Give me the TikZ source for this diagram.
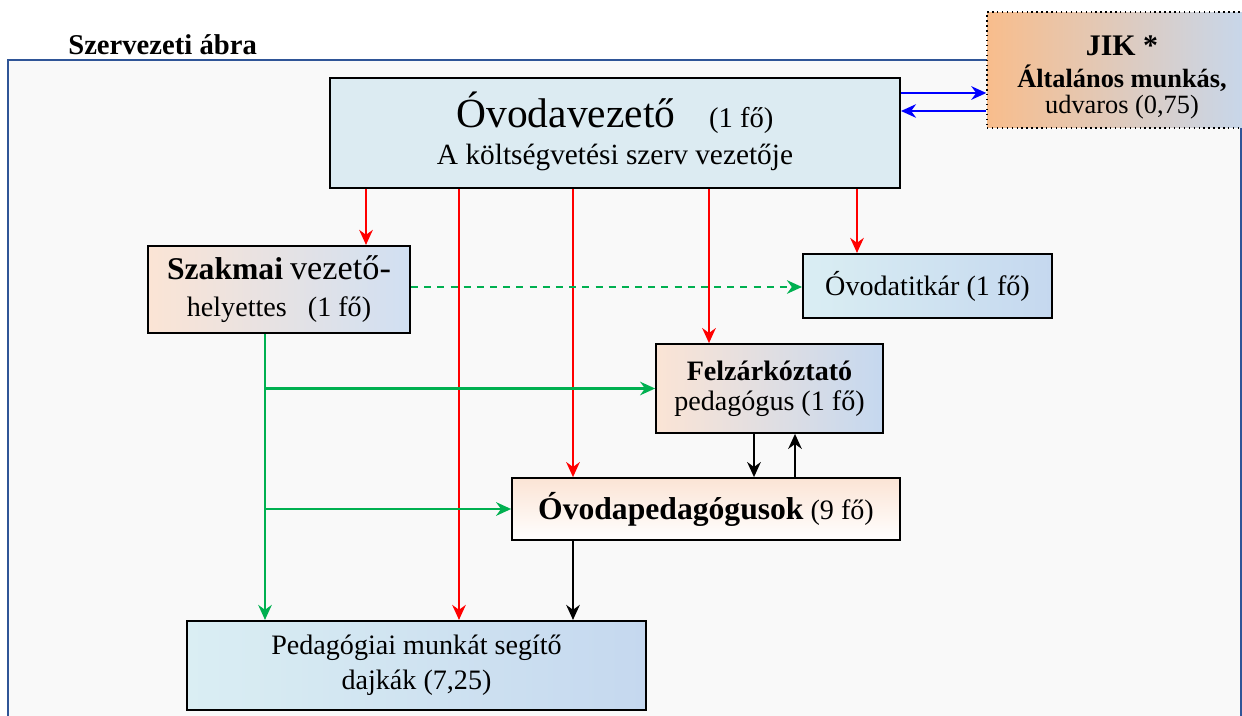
\documentclass[tikz,border=0pt]{standalone}
\usepackage{fontspec}
\setmainfont{Liberation Serif}
\usetikzlibrary{arrows.meta,positioning}
\definecolor{orgRed}{RGB}{255,0,0}
\definecolor{orgGreen}{RGB}{0,176,80}
\definecolor{orgBlue}{RGB}{0,0,255}
\definecolor{orgFrame}{HTML}{2F5597}
\definecolor{orgPaper}{HTML}{F9F9F9}
\definecolor{orgSky}{HTML}{DCEBF2}
\definecolor{orgIce}{HTML}{DAEEF3}
\definecolor{orgSteel}{HTML}{C5D8EF}
\definecolor{orgPeach}{HTML}{FBE4D5}
\definecolor{orgApricot}{HTML}{F8BD8C}
\tikzset{
    unit/.style={
        draw=black,line width=1.2pt,align=center,inner sep=2pt,
        font=\fontsize{16}{19}\selectfont
    },
    arrow/.style={
        -{Stealth[length=3mm,width=2.7mm]},line width=1.4pt,draw=#1
    },
    arrow/.default=black
}

\begin{document}
\begin{tikzpicture}[x=0.02cm,y=-0.02cm]

\clip (0,0) rectangle (1242,716);
\fill[white] (0,0) rectangle (1242,716);

% frame and title
\draw[orgFrame,line width=1pt,fill=orgPaper] (8,60) rectangle (1241,740);
\node[anchor=west,font=\fontsize{16.3}{19}\selectfont\bfseries,inner sep=0pt]
(title) at (68,45) {Szervezeti ábra};

% units
\node[unit,fill=orgSky,minimum width=11.4cm,minimum height=2.2cm]
(vez) at (615,133)
{{\fontsize{23.6}{27}\selectfont Óvodavezető}\hspace{1.2em}{\fontsize{16.3}{19}\selectfont(1 fő)}\\[2pt]
{\fontsize{16.7}{19}\selectfont A költségvetési szerv vezetője}\rule[-5pt]{0pt}{5pt}};

\node[unit,draw=black,line width=0.8pt,dotted,left color=orgApricot,right color=orgSteel,
minimum width=5.4cm,minimum height=2.32cm]
(jik) at (1122,70)
{\rule{0pt}{20pt}{\fontsize{17}{20}\selectfont\bfseries JIK *}\\[-1pt]
{\fontsize{15}{17}\selectfont\bfseries Általános munkás,}\\[-4pt]
{\fontsize{15}{17}\selectfont udvaros (0,75)}};

\node[unit,left color=orgPeach,right color=orgSteel!80,
minimum width=5.24cm,minimum height=1.74cm]
(szak) at (279,289.5)
{{\fontsize{18}{21}\selectfont\bfseries Szakmai} {\fontsize{19.5}{21}\selectfont vezető-}\\[2pt]
helyettes\hspace{0.5em} (1 fő)};

\node[unit,left color=orgIce,right color=orgSteel,
minimum width=4.98cm,minimum height=1.28cm]
(tit) at (927.5,286) {Óvodatitkár (1 fő)};

\node[unit,line width=1pt,left color=orgPeach,right color=orgSteel,
minimum width=4.54cm,minimum height=1.78cm,font=\fontsize{16}{17}\selectfont]
(felz) at (769.5,388.5)
{\textbf{Felzárkóztató}\\pedagógus (1 fő)};

\node[unit,line width=1pt,top color=orgPeach,bottom color=white,
minimum width=7.76cm,minimum height=1.24cm]
(ovped) at (706,509)
{{\fontsize{18}{21}\selectfont\bfseries Óvodapedagógusok} (9 fő)};

\node[unit,left color=orgIce,right color=orgSteel,
minimum width=9.18cm,minimum height=1.78cm]
(dajka) at (416.5,665.5)
{Pedagógiai munkát segítő\\[1pt]dajkák (7,25)};

% leader lines
\draw[arrow=orgRed] (vez.south -| 366,0) -- (szak.north -| 366,0);
\draw[arrow=orgRed] (vez.south -| 459,0) -- (dajka.north -| 459,0);
\draw[arrow=orgRed] (vez.south -| 573,0) -- (ovped.north -| 573,0);
\draw[arrow=orgRed] (vez.south -| 709,0) -- (felz.north -| 709,0);
\draw[arrow=orgRed] (vez.south -| 857,0) -- (tit.north -| 857,0);

\draw[arrow=orgBlue] (vez.east |- 0,93) -- (jik.west |- 0,93);
\draw[arrow=orgBlue] (jik.west |- 0,111) -- (vez.east |- 0,111);

% professional lines
\draw[arrow=orgGreen,dashed,dash pattern=on 4pt off 3.5pt]
(szak.east |- 0,287) -- (tit.west |- 0,287);
\draw[arrow=orgGreen] (szak.south -| 265,0) -- (dajka.north -| 265,0);
\draw[arrow=orgGreen] (szak.south -| 265,0) |- (felz.west);
\draw[arrow=orgGreen] (szak.south -| 265,0) |- (ovped.west);

\draw[arrow] (felz.south -| 754,0) -- (ovped.north -| 754,0);
\draw[arrow] (ovped.north -| 795,0) -- (felz.south -| 795,0);
\draw[arrow] (ovped.south -| 573,0) -- (dajka.north -| 573,0);

\end{tikzpicture}
\end{document}
